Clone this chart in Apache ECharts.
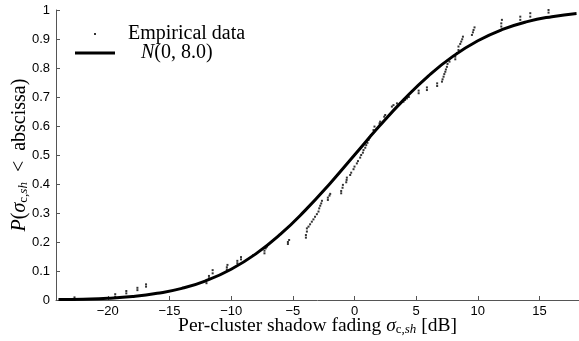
<!DOCTYPE html>
<html>
<head>
<meta charset="utf-8">
<script src="https://cdn.jsdelivr.net/npm/echarts@6/dist/echarts.min.js"></script>
<style>
  html, body { margin: 0; padding: 0; background: #fff; }
  #chart { width: 579px; height: 341px; }
</style>
</head>
<body>
<div id="chart"></div>
<script>
// empirical CDF points
var empX = [-22.7, -22.7, -19.4, -19.4, -18.5, -18.5, -17.6, -17.6, -16.9, -16.9,
  -12.0, -12.0, -11.8, -11.8, -11.5, -11.5, -10.35, -10.35, -10.3,
  -9.5, -9.5, -9.2, -9.2, -8.2, -7.3, -7.3, -7.2, -7.1,
  -5.4, -5.4, -5.3,
  -3.94, -3.94, -3.86, -3.86, -3.73, -3.6, -3.46, -3.33, -3.2, -3.05, -2.92, -2.86, -2.78, -2.7, -2.64,
  -2.16, -2.16, -2.03, -1.97,
  -1.08, -1.08, -0.97, -0.94, -0.67, -0.64, -0.62,
  -0.35, -0.27, -0.08, 0, 0.19, 0.28, 0.46, 0.54, 0.68, 0.73, 0.87, 0.95, 1.05, 1.14, 1.22, 1.33,
  1.54, 1.62, 2.03, 2.08, 2.41, 2.49,
  3.03, 3.16, 3.44, 3.7, 3.97,
  4.1, 4.25, 4.4,
  5.2, 5.2, 5.87, 5.87, 6.7, 6.7,
  7.09, 7.14, 7.22, 7.28, 7.36, 7.41, 7.49, 7.54, 7.7,
  8.17, 8.17, 8.3, 8.43, 8.43, 8.57, 8.65, 8.73, 8.79,
  9.52, 9.6, 9.65, 9.73,
  11.9, 11.9, 11.95,
  13.44, 13.44, 14.25, 14.25, 15.73, 15.73];
var empY = [0.0, 0.009, 0.011, 0.02, 0.023, 0.031, 0.034, 0.042, 0.046, 0.054,
  0.058, 0.069, 0.075, 0.083, 0.092, 0.103, 0.105, 0.113, 0.121,
  0.127, 0.135, 0.14, 0.148, 0.155, 0.161, 0.17, 0.178, 0.184,
  0.193, 0.2, 0.207,
  0.215, 0.224, 0.236, 0.247, 0.253, 0.261, 0.27, 0.278, 0.287, 0.296, 0.305, 0.316, 0.325, 0.333, 0.342,
  0.345, 0.353, 0.36, 0.366,
  0.368, 0.376, 0.387, 0.397, 0.406, 0.414, 0.422,
  0.431, 0.439, 0.451, 0.46, 0.471, 0.479, 0.491, 0.5, 0.508, 0.517, 0.525, 0.534, 0.542, 0.552, 0.56, 0.569,
  0.586, 0.598, 0.609, 0.615, 0.632, 0.638,
  0.667, 0.672, 0.678, 0.678, 0.684,
  0.69, 0.695, 0.7,
  0.713, 0.722, 0.724, 0.733, 0.738, 0.747,
  0.753, 0.761, 0.77, 0.779, 0.787, 0.795, 0.804, 0.814, 0.822,
  0.83, 0.839, 0.852, 0.862, 0.874, 0.883, 0.891, 0.899, 0.908,
  0.914, 0.923, 0.931, 0.94,
  0.943, 0.954, 0.966,
  0.966, 0.977, 0.977, 0.989, 0.991, 1.0];

// fitted normal curve
var fitX = [-24, -22, -20, -18, -16, -14, -12, -10, -8, -6, -4, -2, 0, 2, 4, 6, 8, 10, 12, 14, 16, 18];
var fitY = [0.0013, 0.003, 0.006, 0.012, 0.023, 0.040, 0.067, 0.106, 0.159, 0.227, 0.309, 0.401,
  0.5, 0.599, 0.691, 0.773, 0.841, 0.894, 0.933, 0.960, 0.977, 0.988];

var xTicks = [-20, -15, -10, -5, 0, 5, 10, 15];

var empData = empX.map(function (x, i) { return [x, empY[i]]; });
var fitData = fitX.map(function (x, i) { return [x, fitY[i]]; });

var serif = '"Liberation Serif", "DejaVu Serif", serif';
var sans = '"Liberation Sans", Arial, sans-serif';
var axisColor = '#555';

function nameRich(size) {
  return {
    t: { fontFamily: serif, fontSize: size, color: '#000' },
    i: { fontFamily: serif, fontSize: size, fontStyle: 'italic', color: '#000' },
    subr: { fontFamily: serif, fontSize: 13, color: '#000', padding: [8, 0, 0, 0] },
    sub: { fontFamily: serif, fontSize: 13, fontStyle: 'italic', color: '#000', padding: [8, 0, 0, 0] }
  };
}

var chart = echarts.init(document.getElementById('chart'));
chart.setOption({
  animation: false,
  grid: { left: 56, right: 0, top: 10, bottom: 41, outerBoundsMode: 'none' },
  legend: [
    {
      data: ['Empirical data'],
      left: 94, top: 24, padding: 0,
      icon: 'rect', itemWidth: 2, itemHeight: 2,
      textStyle: { fontFamily: serif, fontSize: 20, color: '#000', padding: [0, 0, 0, 27] }
    },
    {
      data: ['N(0, 8.0)'],
      left: 75, top: 43, padding: 0,
      icon: 'rect', itemWidth: 40, itemHeight: 3,
      formatter: function () { return '{n|N}(0, 8.0)'; },
      textStyle: {
        fontFamily: serif, fontSize: 20, color: '#000', padding: [0, 0, 0, 21],
        rich: { n: { fontFamily: serif, fontSize: 20, fontStyle: 'italic', color: '#000' } }
      }
    }
  ],
  xAxis: {
    type: 'value',
    min: -24.2, max: 18.2,
    splitLine: { show: false },
    axisLine: { onZero: false, lineStyle: { color: axisColor, width: 1 } },
    axisTick: { inside: true, length: 4, customValues: xTicks, lineStyle: { color: axisColor } },
    axisLabel: {
      customValues: xTicks,
      fontFamily: sans, fontSize: 13, color: '#000', margin: 5,
      formatter: function (v) { return String(v).replace('-', '\u2212'); }
    },
    name: '{t|Per-cluster shadow fading }{i|\u03c3}{subr|c,}{sub|sh}{t| [dB]}',
    nameLocation: 'middle', nameGap: 15, nameMoveOverlap: false,
    nameTextStyle: { rich: nameRich(19.5) }
  },
  yAxis: {
    type: 'value',
    min: 0, max: 1, interval: 0.1,
    splitLine: { show: false },
    axisLine: { show: true, onZero: false, lineStyle: { color: axisColor, width: 1 } },
    axisTick: { show: true, inside: true, length: 4, lineStyle: { color: axisColor } },
    axisLabel: {
      fontFamily: sans, fontSize: 13, color: '#000', margin: 6,
      formatter: function (v) { return String(parseFloat(v.toFixed(1))); }
    },
    name: '{i|P}{t|(}{i|\u03c3}{subr|c,}{sub|sh}{t|  <  abscissa)}',
    nameLocation: 'middle', nameGap: 26, nameRotate: 90, nameMoveOverlap: false,
    nameTextStyle: { rich: nameRich(20) }
  },
  series: [
    {
      name: 'Empirical data',
      type: 'scatter',
      data: empData,
      symbol: 'rect',
      symbolSize: 2,
      itemStyle: { color: '#000' },
      z: 3
    },
    {
      name: 'N(0, 8.0)',
      type: 'line',
      data: fitData,
      smooth: true,
      showSymbol: false,
      symbol: 'none',
      lineStyle: { color: '#000', width: 3 },
      itemStyle: { color: '#000' },
      z: 2
    }
  ]
});
</script>
</body>
</html>
